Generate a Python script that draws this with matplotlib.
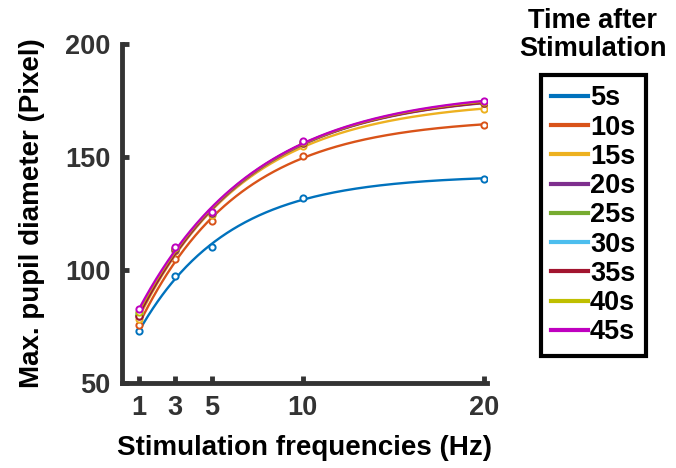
import numpy as np
import matplotlib.pyplot as plt

plt.rcParams['font.family'] = ['Liberation Sans', 'DejaVu Sans']
plt.rcParams['font.weight'] = 'bold'

freqs = np.array([1, 3, 5, 10, 20])
times = ['5s', '10s', '15s', '20s', '25s', '30s', '35s', '40s', '45s']

# max pupil diameter per stimulation frequency, one row per time point
diam_5s = [72.8, 97.3, 110.0, 132.0, 140.3]
diam_10s = [75.7, 105.0, 121.6, 150.3, 164.2]
diam_15s = [78.5, 108.5, 124.5, 155.0, 171.3]
diam_20s = [79.5, 109.0, 125.0, 156.0, 173.8]
diam_25s = [80.3, 109.3, 125.3, 156.4, 174.0]
diam_30s = [81.0, 109.5, 125.4, 156.6, 174.2]
diam_35s = [79.8, 109.2, 125.2, 156.3, 173.9]
diam_40s = [81.5, 109.7, 125.5, 156.7, 174.3]
diam_45s = [82.6, 110.0, 125.8, 157.0, 174.6]
series = [diam_5s, diam_10s, diam_15s, diam_20s, diam_25s,
          diam_30s, diam_35s, diam_40s, diam_45s]

colors = ['#0072BD', '#D95319', '#EDB120', '#7E2F8E', '#77AC30',
          '#4DBEEE', '#A2142F', '#BFBF00', '#BF00BF']


def fit_saturation(x, y):
    # y = a - b*exp(-c*x): scan c, solve a, b by least squares
    best = None
    for c in np.linspace(0.02, 1.0, 500):
        A = np.column_stack([np.ones_like(x, dtype=float), -np.exp(-c * x)])
        coef, res, _, _ = np.linalg.lstsq(A, y, rcond=None)
        err = np.sum((A @ coef - y) ** 2)
        if best is None or err < best[0]:
            best = (err, coef[0], coef[1], c)
    _, a, b, c = best
    return lambda t: a - b * np.exp(-c * t)


fig = plt.figure(figsize=(6.76, 4.68), dpi=100)
ax = fig.add_axes([122 / 676, 1 - 383 / 468, 365 / 676, 339 / 468])

xs = np.linspace(1, 20, 300)
handles = []
for vals, col, lab in zip(series, colors, times):
    f = fit_saturation(freqs.astype(float), np.array(vals))
    h, = ax.plot(xs, f(xs), color=col, lw=1.7, label=lab)
    ax.plot(freqs, vals, 'o', mfc='white', mec=col, ms=4.5, mew=1.4)
    handles.append(h)

ax.set_xlim(0.064, 20.15)
ax.set_ylim(50, 200)
ax.set_xticks(freqs)
ax.set_yticks([50, 100, 150, 200])

for side in ['top', 'right']:
    ax.spines[side].set_visible(False)
for side in ['left', 'bottom']:
    ax.spines[side].set_linewidth(3.5)
    ax.spines[side].set_color('#333333')
ax.tick_params(direction='in', length=5, width=3.5, color='#333333',
               labelsize=19.5, labelcolor='#333333', pad=8.5)
for lbl in ax.get_xticklabels() + ax.get_yticklabels():
    lbl.set_fontweight('bold')

ax.set_xlabel('Stimulation frequencies (Hz)', fontsize=20, fontweight='bold', labelpad=10)
ax.set_ylabel('Max. pupil diameter (Pixel)', fontsize=20, fontweight='bold', labelpad=14)

leg = fig.legend(handles=handles, loc='upper left',
                 bbox_to_anchor=(541 / 676, 1 - 75 / 468),
                 prop={'size': 19.5, 'weight': 'bold'},
                 frameon=True, fancybox=False, edgecolor='black', framealpha=1,
                 handlelength=1.35, handletextpad=0.08, labelspacing=0.12,
                 borderpad=0.38, borderaxespad=0)
leg.get_frame().set_linewidth(3)
for line in leg.get_lines():
    line.set_linewidth(3)

fig.text(593 / 676, 1 - 8 / 468, 'Time after\nStimulation', ha='center', va='top',
         fontsize=19.5, fontweight='bold', linespacing=1.08)

fig.savefig('out.png', dpi=100)
